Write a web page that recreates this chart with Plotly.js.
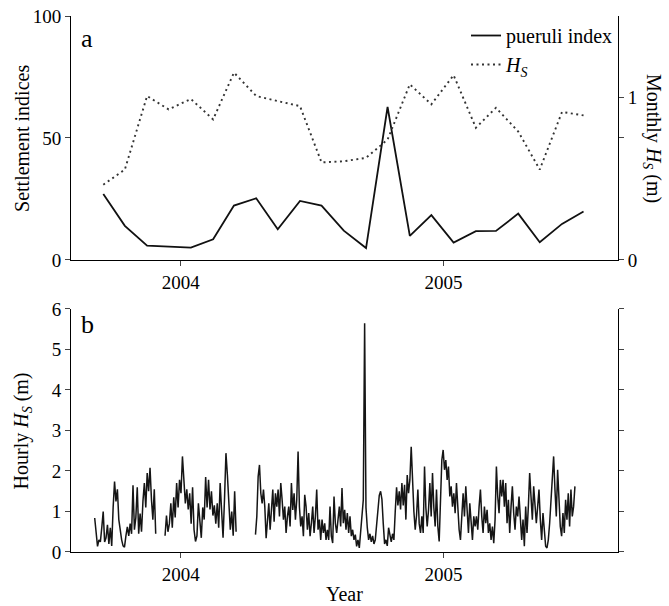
<!DOCTYPE html>
<html><head><meta charset="utf-8">
<script src="https://cdn.plot.ly/plotly-3.0.1.min.js"></script>
<style>html,body{margin:0;padding:0;background:#fff}#chart{width:669px;height:606px}</style>
</head><body><div id="chart"></div>
<script>
// ---- data ----
const months = ['2003-09-15','2003-10-15','2003-11-15','2003-12-15','2004-01-15','2004-02-15','2004-03-15','2004-04-15','2004-05-15','2004-06-15','2004-07-15','2004-08-15','2004-09-15','2004-10-15','2004-11-15','2004-12-15','2005-01-15','2005-02-15','2005-03-15','2005-04-15','2005-05-15','2005-06-15','2005-07-15'];
const pueruliIndex = [27,14,5.9,5.5,5.1,8.5,22.3,25.3,12.6,24.2,22.3,12,4.9,62.7,9.9,18.4,7.1,11.8,11.9,19,7.3,14.8,19.9];
const monthlyHs = [0.463,0.556,1.008,0.926,0.99,0.864,1.152,1.008,0.977,0.946,0.6,0.607,0.628,0.74,1.08,0.957,1.136,0.813,0.936,0.79,0.556,0.91,0.889];

const hourlySeg1 = [0.84,0.5,0.14,0.3,0.25,0.6,1.0,0.25,0.35,0.67,0.2,0.6,0.15,1.1,1.74,1.25,1.55,0.8,0.5,0.3,0.15,0.12,0.4,0.62,0.4,0.7,0.45,1.65,0.55,0.85,1.6,0.45,0.95,0.5,1.25,1.7,1.1,1.95,1.5,2.08,1.3,0.8,1.55,0.45];
const hourlySeg2 = [0.4,0.9,0.5,0.7,1.2,0.6,1.35,0.85,1.7,1.1,1.78,1.45,2.36,1.6,1.2,1.55,1.05,1.45,0.7,1.6,0.55,0.26,0.4,1.2,0.8,0.35,1.1,0.8,1.85,1.1,1.78,1.05,1.5,0.9,1.15,0.7,1.2,0.6,1.7,1.0,0.35,1.3,2.44,1.9,1.2,0.55,1.0,0.4,1.5,0.5];
const hourlySeg3a = [0.43,0.88,1.86,2.15,1.45,1.2,1.54,1.12,0.34,0.88,1.2,0.55,1.04,1.54,0.75,1.45,1.12,1.54,0.88,1.7,1.29,0.8,1.12,0.47,0.88,1.12,0.63,1.7,1.04,1.45,0.8,1.29,2.48,1.12,0.63,0.88,0.39,1.41,1.12,0.55,0.96,0.39,0.71,1.12,0.47,0.88,1.54,0.55,0.8,0.3,0.8,0.47,0.71,0.3,0.55,0.3,1.12,0.39,0.22,1.37,0.71,0.47];
const hourlySeg3b = [0.8,1.12,0.63,1.58,0.71,1.04,0.55,0.96,0.47,0.88,0.39,0.55,0.3,0.43,0.14,0.3,0.1,0.47,0.8,1.29,5.65,1.1,0.6,0.3,0.45,0.25,0.4,0.2,0.3,0.7,1.2,1.4,1.5,1.3,0.7,0.2,0.3,0.15,0.6,0.45,0.25,0.45,0.3,1.0,1.6,1.15,1.5,1.05,1.7,1.15,1.66,0.8,1.9,1.45,1.78,2.6,1.5,1.0,0.55,0.9,1.54,0.7,0.47,0.88,0.47,2.11,1.1,0.63,1.04,1.7,0.88,1.95,1.1,0.63,1.54,0.63,0.26,1.12,2.27,2.52,2.03,2.27,1.78,2.11,1.37,1.62,1.12,1.45,0.96];
const hourlySeg3c = [1.7,1.12,0.55,0.3,0.8,1.45,0.88,1.62,1.04,0.47,1.2,0.71,0.3,0.88,0.63,0.88,0.55,1.12,1.54,0.88,0.47,1.12,0.71,1.04,0.47,0.71,0.3,0.63,0.22,0.8,2.11,1.37,0.96,1.78,1.37,1.78,1.12,1.7,0.71,1.29,0.47,1.12,1.62,0.96,0.55,1.12,0.88,1.37,0.63,0.3,0.8,0.14,1.12,0.47,1.12,1.95,1.37,0.8,1.62,1.2,0.71,1.12,1.54,0.8,0.3,0.96,0.55,0.14,0.1,0.3,0.71,1.37,1.86,2.36,1.54,0.88,2.03,1.12,0.63,0.39,0.96,0.47,1.29,0.8,1.45,0.63,1.54,0.88,1.12,1.62];
const segStart = ['2003-09-03','2003-12-10','2004-04-14'];
const segEnd = ['2003-11-27','2004-03-18','2005-07-03'];
const yearTicks = ['2004-01-01','2005-01-01'];
const yearLabels = ['2004','2005'];

// ---- build ----
function spread(vals, start, end) {
  const t0 = Date.parse(start + 'T00:00:00Z'), t1 = Date.parse(end + 'T00:00:00Z');
  return vals.map((v, i) => new Date(t0 + (t1 - t0) * i / (vals.length - 1)).toISOString().slice(0, 19).replace('T', ' '));
}
const segs = [hourlySeg1, hourlySeg2, hourlySeg3a.concat(hourlySeg3b, hourlySeg3c)];
let hx = [], hy = [];
segs.forEach((s, k) => {
  const xs = spread(s, segStart[k], segEnd[k]);
  if (k > 0) { hx.push(xs[0]); hy.push(null); }
  hx = hx.concat(xs); hy = hy.concat(s);
});

const FAM = 'Liberation Serif, Times New Roman, serif';
const font = {family: FAM, size: 19, color: '#000'};
const xrange = ['2003-08-01', '2005-09-01'];
const ax = {showgrid: false, zeroline: false, showline: true, linecolor: '#000', linewidth: 1,
  ticks: 'outside', ticklen: 5, tickwidth: 1, tickcolor: '#444', tickfont: font};

const traces = [
  {x: months, y: pueruliIndex, type: 'scatter', mode: 'lines', name: 'pueruli index',
   line: {color: '#111', width: 1.8}, xaxis: 'x', yaxis: 'y'},
  {x: months, y: monthlyHs, type: 'scatter', mode: 'lines', name: '<i>H</i><sub><i>S</i></sub>',
   line: {color: '#333', width: 1.9, dash: '2px,3.5px'}, xaxis: 'x', yaxis: 'y2'},
  {x: hx, y: hy, type: 'scatter', mode: 'lines', showlegend: false, connectgaps: false,
   line: {color: '#151515', width: 1.5}, xaxis: 'x2', yaxis: 'y3'}
];

const hsT = '<i>H</i><sub><i>S</i></sub>';
const ann = (text, x, y, o) => Object.assign({text, x, y, xref: 'paper', yref: 'paper', showarrow: false,
  xanchor: 'center', yanchor: 'middle', font: {family: FAM, size: 20, color: '#000'}}, o || {});

const layout = {
  width: 669, height: 606, margin: {l: 71, r: 51, t: 16, b: 54},
  paper_bgcolor: '#fff', plot_bgcolor: '#fff', font: font, showlegend: true,
  xaxis: Object.assign({}, ax, {type: 'date', range: xrange, tickvals: yearTicks, ticktext: yearLabels, anchor: 'y', domain: [0, 1]}),
  yaxis: Object.assign({}, ax, {range: [0, 100], tickvals: [0, 50, 100], domain: [0.5448, 1], anchor: 'x'}),
  yaxis2: Object.assign({}, ax, {overlaying: 'y', side: 'right', range: [0, 1.5], tickvals: [0, 0.75, 1], ticktext: ['0', '', '1'], anchor: 'x'}),
  xaxis3: Object.assign({}, ax, {overlaying: 'x', side: 'top', anchor: 'y', type: 'date', range: xrange, tickvals: yearTicks, showticklabels: false, linecolor: '#999', tickcolor: '#999'}),
  xaxis2: Object.assign({}, ax, {type: 'date', range: xrange, tickvals: yearTicks, ticktext: yearLabels, anchor: 'y3', domain: [0, 1]}),
  yaxis3: Object.assign({}, ax, {range: [0, 6], tickvals: [0, 1, 2, 3, 4, 5, 6], domain: [0, 0.4534], anchor: 'x2', mirror: 'ticks'}),
  xaxis4: Object.assign({}, ax, {overlaying: 'x2', side: 'top', anchor: 'y3', type: 'date', range: xrange, tickvals: yearTicks, showticklabels: false, linecolor: '#999', tickcolor: '#999'}),
  legend: {x: 1, xanchor: 'right', y: 1.0, yanchor: 'top', bgcolor: 'rgba(0,0,0,0)', borderwidth: 0,
    font: {family: FAM, size: 20, color: '#000'}, tracegroupgap: 0},
  annotations: [
    ann('a', 0.014, 0.958, {xanchor: 'left', font: {family: FAM, size: 26, color: '#000'}}),
    ann('b', 0.014, 0.424, {xanchor: 'left', font: {family: FAM, size: 26, color: '#000'}}),
    ann('Settlement indices', -0.0896, 0.7724, {textangle: -90}),
    ann('Monthly ' + hsT + ' (m)', 1.0622, 0.7724, {textangle: 90}),
    ann('Hourly ' + hsT + ' (m)', -0.0896, 0.2267, {textangle: -90}),
    ann('Year', 0.5, -0.078)
  ]
};
Plotly.newPlot('chart', traces, layout, {staticPlot: true, displayModeBar: false});
</script></body></html>
